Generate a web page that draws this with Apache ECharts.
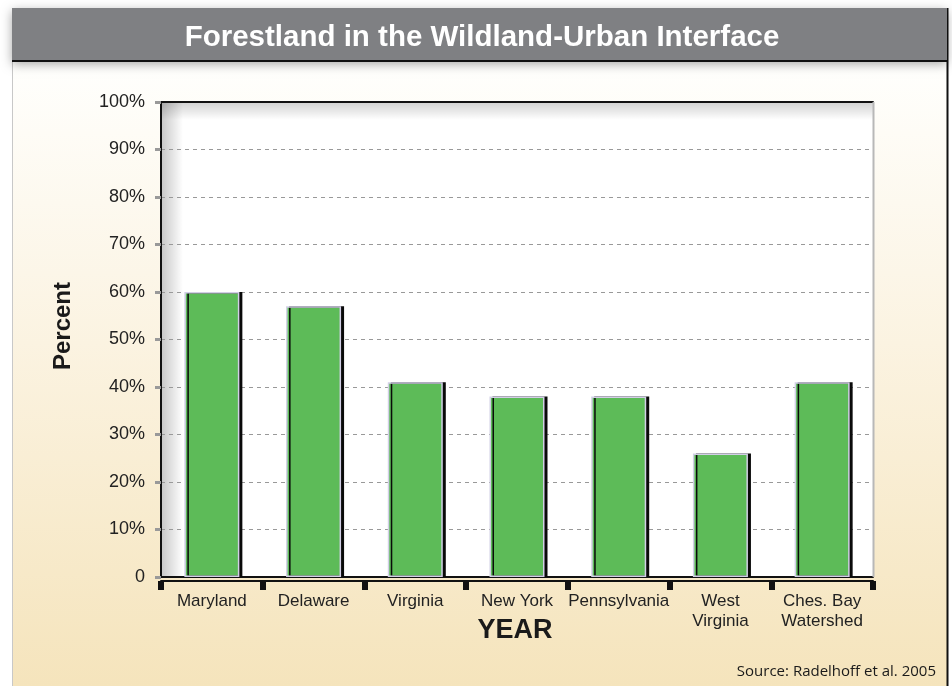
<!DOCTYPE html>
<html>
<head>
<meta charset="utf-8">
<script src="https://cdn.jsdelivr.net/npm/echarts@6/dist/echarts.min.js"></script>
<style>
html,body{margin:0;padding:0;background:#fff;}
#chart{width:952px;height:686px;}
</style>
</head>
<body>
<div id="chart"></div>
<script>
const categories = ['Maryland', 'Delaware', 'Virginia', 'New York', 'Pennsylvania', 'West\nVirginia', 'Ches. Bay\nWatershed'];
const percentValues = [60, 57, 41, 38, 38, 26, 41];
const yTickLabels = ['0', '10%', '20%', '30%', '40%', '50%', '60%', '70%', '80%', '90%', '100%'];

const chart = echarts.init(document.getElementById('chart'));
const G = {left: 161, top: 102, right: 79, bottom: 109};
const option = {
  animation: false,
  backgroundColor: '#ffffff',
  title: {
    text: 'Forestland in the Wildland-Urban Interface',
    left: 477, textAlign: 'center', top: 18,
    textStyle: {color: '#ffffff', fontSize: 29.5, fontWeight: 'bold', fontFamily: 'Liberation Sans, Arial, sans-serif'}
  },
  graphic: [
    {type: 'rect', z: -10, shape: {x: 12, y: 62, width: 936, height: 624},
     style: {fill: new echarts.graphic.LinearGradient(0, 0, 0, 1, [
       {offset: 0, color: '#fffffd'}, {offset: 0.45, color: '#fbf3e1'}, {offset: 1, color: '#f5e4bc'}])}},
    {type: 'line', z: -9, shape: {x1: 12.5, y1: 62, x2: 12.5, y2: 686}, style: {stroke: '#c8c8c8', lineWidth: 1}},
    {type: 'line', z: -9, shape: {x1: 947.5, y1: 8, x2: 947.5, y2: 686}, style: {stroke: '#111', lineWidth: 2}},
    {type: 'rect', z: -8, shape: {x: 12, y: 8, width: 935, height: 53},
     style: {fill: '#7f8083', shadowColor: 'rgba(0,0,0,0.35)', shadowBlur: 10, shadowOffsetY: 3}},
    {type: 'line', z: -7, shape: {x1: 12, y1: 61, x2: 947, y2: 61}, style: {stroke: '#111', lineWidth: 2}},
    {type: 'rect', z: -5, shape: {x: 161, y: 102, width: 712, height: 475}, style: {fill: '#ffffff'}},
    {type: 'rect', z: -4, shape: {x: 161, y: 102, width: 22, height: 475},
     style: {fill: new echarts.graphic.LinearGradient(0, 0, 1, 0, [
       {offset: 0, color: 'rgba(0,0,0,0.22)'}, {offset: 1, color: 'rgba(0,0,0,0)'}])}},
    {type: 'rect', z: -4, shape: {x: 161, y: 102, width: 712, height: 18},
     style: {fill: new echarts.graphic.LinearGradient(0, 0, 0, 1, [
       {offset: 0, color: 'rgba(0,0,0,0.18)'}, {offset: 1, color: 'rgba(0,0,0,0)'}])}},
    {type: 'line', z: 5, shape: {x1: 873.5, y1: 102, x2: 873.5, y2: 577}, style: {stroke: '#b8b8b8', lineWidth: 2}},
    {type: 'text', x: 63, y: 326, rotation: Math.PI / 2,
     style: {text: 'Percent', fill: '#1a1a1a', fontSize: 24, fontWeight: 'bold', align: 'center', verticalAlign: 'middle',
             fontFamily: 'Liberation Sans, Arial, sans-serif'}},
    {type: 'text', x: 515, y: 631,
     style: {text: 'YEAR', fill: '#1a1a1a', fontSize: 27, fontWeight: 'bold', align: 'center', verticalAlign: 'middle',
             fontFamily: 'Liberation Sans, Arial, sans-serif'}},
    {type: 'text', right: 16, top: 664,
     style: {text: 'Source: Radelhoff et al. 2005', fill: '#1a1a1a', fontSize: 15, fontFamily: 'Open Sans, Noto Sans, sans-serif'}}
  ],
  grid: {left: G.left, top: G.top, right: G.right, bottom: G.bottom},
  xAxis: [
    {type: 'category', data: categories, position: 'bottom',
     axisLine: {show: true, lineStyle: {color: '#111', width: 2}},
     axisTick: {show: false},
     axisLabel: {color: '#222', fontSize: 17, lineHeight: 20, margin: 14, interval: 0,
                 fontFamily: 'Liberation Sans Narrow, Arial Narrow, Liberation Sans, sans-serif'}},
    {type: 'category', data: categories, position: 'bottom', offset: 4,
     axisLine: {show: true, lineStyle: {color: '#111', width: 2}},
     axisTick: {show: true, alignWithLabel: false, length: 9, lineStyle: {color: '#111', width: 6}},
     axisLabel: {show: false}},
    {type: 'category', data: categories, position: 'top',
     axisLine: {show: true, lineStyle: {color: '#111', width: 2}},
     axisTick: {show: false}, axisLabel: {show: false}}
  ],
  yAxis: {
    type: 'value', min: 0, max: 100, interval: 10,
    axisLine: {show: true, lineStyle: {color: '#111', width: 2}},
    axisTick: {show: true, length: 6, lineStyle: {color: '#999', width: 3}},
    axisLabel: {color: '#222', fontSize: 18, margin: 16, fontFamily: 'Liberation Sans, Arial, sans-serif',
                formatter: (v) => yTickLabels[Math.round(v / 10)]},
    splitLine: {show: true, lineStyle: {color: '#999', type: [4, 4], width: 1}}
  },
  series: [{
    type: 'bar', data: percentValues, barWidth: 55, xAxisIndex: 0,
    itemStyle: {color: '#5dbb58', borderColor: '#d2cfe6', borderWidth: 1.5,
                shadowColor: '#0a0a0a', shadowBlur: 0, shadowOffsetX: 3, shadowOffsetY: 0}
  }]
};
chart.setOption(option);
</script>
</body>
</html>
